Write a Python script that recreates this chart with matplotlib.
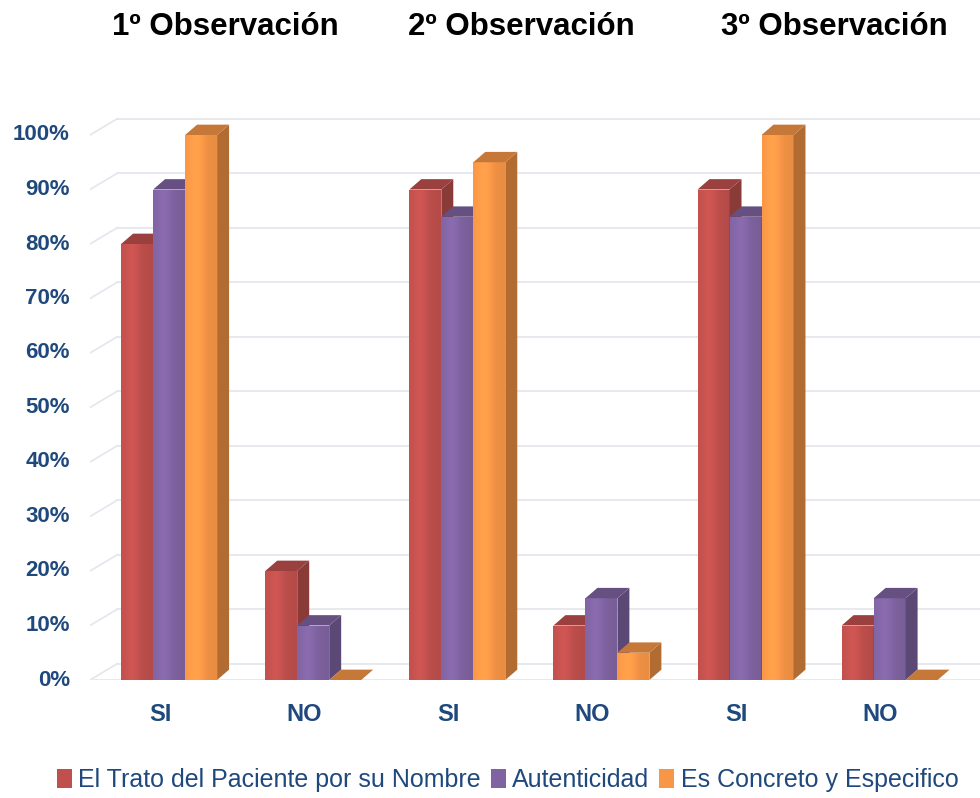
import numpy as np
import matplotlib.pyplot as plt
from matplotlib.patches import Polygon, Rectangle
from matplotlib.colors import to_rgb

plt.rcParams['font.family'] = ['Liberation Sans', 'DejaVu Sans']

# survey results, % per answer, three observations
observations = ['1º Observación', '2º Observación', '3º Observación']
categories = ['SI', 'NO', 'SI', 'NO', 'SI', 'NO']
series = ['El Trato del Paciente por su Nombre', 'Autenticidad', 'Es Concreto y Especifico']
trato = [80, 20, 90, 10, 90, 10]
autenticidad = [90, 10, 85, 15, 85, 15]
concreto = [100, 0, 95, 5, 100, 0]
yticks = [0, 10, 20, 30, 40, 50, 60, 70, 80, 90, 100]

colors = ['#C0504D', '#8064A2', '#F79646']
text_blue = '#1F497D'
grid_col = '#E4E8EE'


def shade(c, f):
    r, g, b = to_rgb(c)
    return (min(r * f, 1), min(g * f, 1), min(b * f, 1))


def front_gradient(c):
    # light band a bit left of centre, darker towards the edges
    t = np.linspace(0, 1, 40)
    f = 1.0 + 0.10 * np.exp(-((t - 0.35) / 0.25) ** 2) - 0.06 * t
    return np.array([shade(c, v) for v in f])[None, :, :]


fig = plt.figure(figsize=(9.8, 7.98), dpi=100)
ax = fig.add_axes([90 / 980, 1 - 680 / 798, 890 / 980, 599.5 / 798])
ax.set_xlim(-0.486, 5.69)
ax.set_ylim(0, 110)
ax.axis('off')

# back wall offset and bar depth (data units)
wall_dx, wall_dy = 0.19, 3.0
bar_dx, bar_dy = 0.083, 1.9
x_left = -0.486

# gridlines on the back wall with a receding edge on the left
for t in yticks:
    ax.plot([x_left + wall_dx, 5.69], [t + wall_dy, t + wall_dy], color=grid_col, lw=1.3, zorder=1)
    ax.plot([x_left, x_left + wall_dx], [t, t + wall_dy], color=grid_col, lw=1.3, zorder=1)
    ax.text(x_left - 0.14, t, f'{t}%', ha='right', va='center', fontsize=16,
            fontweight='bold', color=text_blue, clip_on=False)
ax.plot([x_left, 5.69], [0, 0], color=grid_col, lw=1.3, zorder=1)

width = 0.222
shift = 0.063
values = [trato, autenticidad, concreto]
z = 2
for i in range(len(categories)):
    for k, vals in enumerate(values):
        h = vals[i]
        x0 = i + shift + (k - 1.5) * width
        x1 = x0 + width
        c = colors[k]
        if h > 0:
            rect = Rectangle((x0, 0), width, h, facecolor='none', edgecolor='none', zorder=z)
            ax.add_patch(rect)
            im = ax.imshow(front_gradient(c), extent=(x0, x1, 0, h), aspect='auto',
                           interpolation='bilinear', zorder=z)
            im.set_clip_path(rect)
        ax.add_patch(Polygon([(x1, 0), (x1 + bar_dx, bar_dy), (x1 + bar_dx, h + bar_dy), (x1, h)],
                             closed=True, facecolor=shade(c, 0.72), edgecolor='none', zorder=z))
        ax.add_patch(Polygon([(x0, h), (x0 + bar_dx, h + bar_dy), (x1 + bar_dx, h + bar_dy), (x1, h)],
                             closed=True, facecolor=shade(c, 0.8), edgecolor='none', zorder=z))
        z += 1
    ax.text(i, -4.2, categories[i], ha='center', va='top', fontsize=17,
            fontweight='bold', color=text_blue, clip_on=False)

ax.set_xlim(-0.486, 5.69)
ax.set_ylim(0, 110)

# observation headings
for xc, name in zip([225, 521, 834], observations):
    fig.text(xc / 980, 1 - 27 / 798, name, ha='center', va='center', fontsize=22.5,
             fontweight='bold', color='black')

# legend row
handles = [Rectangle((0, 0), 1, 1, facecolor=c, edgecolor='none') for c in colors]
fig.legend(handles, series, loc='center', bbox_to_anchor=(0.518, 1 - 780 / 798), ncol=3,
           frameon=False, fontsize=18, handlelength=0.6, handleheight=0.8,
           handletextpad=0.25, columnspacing=0.4, labelcolor=text_blue)

fig.savefig('out.png', dpi=100, facecolor='white')
